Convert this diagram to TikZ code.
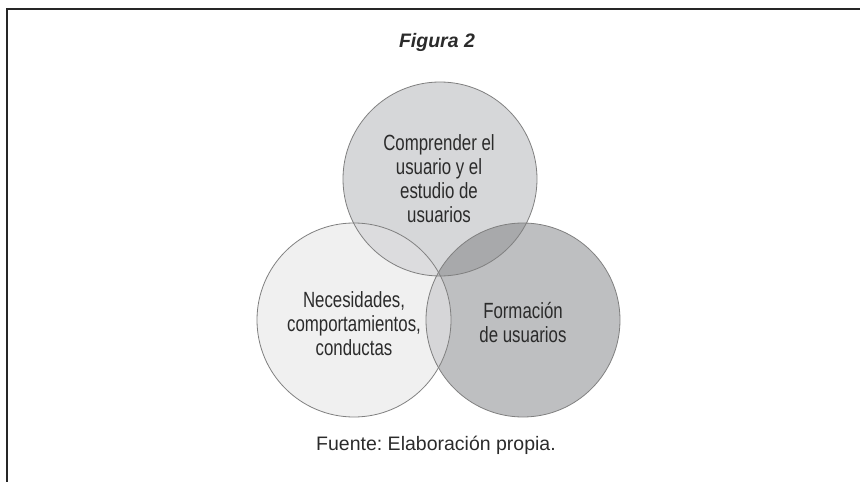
\documentclass[tikz,border=0pt]{standalone}
\usepackage{fontspec}
\setmainfont{Liberation Sans}
\newfontfamily\condfont[FakeStretch=0.765]{Liberation Sans}
\definecolor{txt}{HTML}{2B2B2B}
\definecolor{edge}{HTML}{808080}
\definecolor{ctop}{HTML}{D6D7D9}
\definecolor{cleft}{HTML}{F0F0F0}
\definecolor{cright}{HTML}{BEBFC1}
\definecolor{ctl}{HTML}{DCDCDE}
\definecolor{ctr}{HTML}{A8A9AB}
\definecolor{clr}{HTML}{D6D6D8}
\definecolor{call}{HTML}{BDBDBF}
\begin{document}
\frenchspacing
\begin{tikzpicture}[x=1pt,y=-1pt,
  ring/.style={circle,draw=edge,line width=0.8pt,minimum size=194pt,inner sep=0pt},
  ctext/.style={align=center,text=txt,font=\condfont\fontsize{22}{24}\selectfont},
  frame/.style={line width=2pt,draw=black!85}]
\useasboundingbox (0,0) rectangle (860,482);
\coordinate (ct) at (440,179);
\coordinate (cl) at (354,320);
\coordinate (cr) at (523,320);
% single fills
\fill[ctop] (ct) circle (97pt);
\fill[cleft] (cl) circle (97pt);
\fill[cright] (cr) circle (97pt);
% pairwise overlaps
\begin{scope}
  \clip (ct) circle (97pt);
  \fill[ctl] (cl) circle (97pt);
  \fill[ctr] (cr) circle (97pt);
\end{scope}
\begin{scope}
  \clip (cl) circle (97pt);
  \fill[clr] (cr) circle (97pt);
  \clip (cr) circle (97pt);
  \fill[call] (ct) circle (97pt);
\end{scope}
% outlines
\node[ring] (topc) at (ct) {};
\node[ring] (leftc) at (cl) {};
\node[ring] (rightc) at (cr) {};
% texts
\node[ctext] (ttop) at (439,179) {Comprender el\\usuario y el\\estudio de\\usuarios};
\node[ctext] (tleft) at (354,324) {Necesidades,\\comportamientos,\\conductas};
\node[ctext] (tright) at (523,323) {Formación\\de usuarios};
\node[anchor=base,text=txt,font=\fontsize{19.5}{23}\selectfont\bfseries\itshape] (title) at (437,47) {Figura 2};
\node[anchor=base,text=txt,font=\fontsize{19.5}{23}\selectfont] (caption) at (436,450) {Fuente: Elaboración propia.};
% frame
\coordinate (fa) at (7,482);
\coordinate (fb) at (7,9);
\coordinate (fc) at (860,9);
\draw[frame] (fa) -- (fb) -- (fc);
\end{tikzpicture}
\end{document}
